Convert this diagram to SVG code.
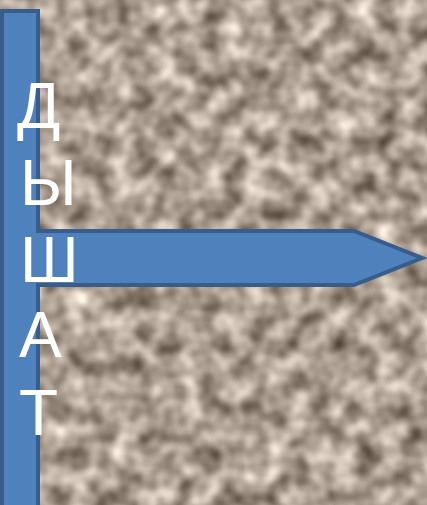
<svg xmlns="http://www.w3.org/2000/svg" width="427" height="505" viewBox="0 0 427 505">
  <defs>
    <filter id="granite" x="0" y="0" width="100%" height="100%" filterUnits="userSpaceOnUse" color-interpolation-filters="sRGB">
      <feTurbulence type="fractalNoise" baseFrequency="0.045" numOctaves="2" seed="7" result="n"/>
      <feColorMatrix in="n" type="matrix" values="0.9 0 0 0 0.22  0.9 0 0 0 0.17  0.9 0 0 0 0.12  0 0 0 0 1"/>
    </filter>
    <style>
      .shape { fill: #4f81bd; stroke: #385d8a; stroke-width: 4; }
      .letter { font-family: "Liberation Sans", "DejaVu Sans", sans-serif; font-size: 64px; fill: #ffffff; }
    </style>
  </defs>
  <rect x="0" y="0" width="427" height="505" fill="#ab9e91" filter="url(#granite)"/>
  <g id="bar">
    <rect class="shape" x="2" y="11" width="36" height="500"/>
  </g>
  <g id="arrow">
    <polygon points="36,231 354,231 422,258 354,285 36,285" fill="#4f81bd"/>
    <polyline points="36,231 354,231 422,258 354,285 36,285" fill="none" stroke="#385d8a" stroke-width="4" stroke-linejoin="miter"/>
  </g>
  <g id="text">
    <text class="letter" x="17" y="128">Д</text>
    <text class="letter" x="20" y="205">Ы</text>
    <text class="letter" x="20" y="282">Ш</text>
    <text class="letter" x="19" y="357">А</text>
    <text class="letter" x="19" y="435">Т</text>
  </g>
</svg>
